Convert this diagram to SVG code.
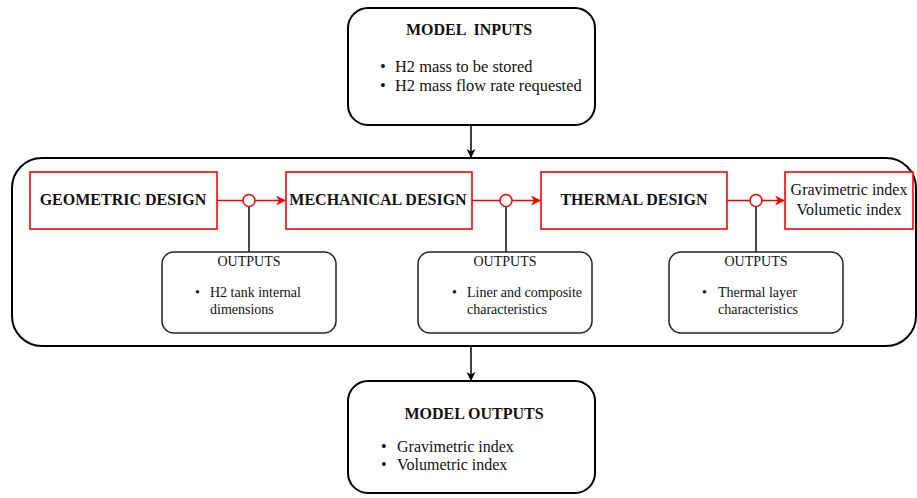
<svg xmlns="http://www.w3.org/2000/svg" width="917" height="498" viewBox="0 0 917 498">
  <defs>
    <marker id="arrowBlack" viewBox="0 0 10 10" refX="9" refY="5" markerWidth="9" markerHeight="9" markerUnits="userSpaceOnUse" orient="auto">
      <path d="M0,0 L10,5 L0,10 L3,5 z" fill="#000"/>
    </marker>
    <marker id="arrowRed" viewBox="0 0 10 10" refX="9" refY="5" markerWidth="10" markerHeight="10" markerUnits="userSpaceOnUse" orient="auto">
      <path d="M0,0 L10,5 L0,10 L3,5 z" fill="#ff0000"/>
    </marker>
  </defs>
  <style>
    text { font-family: "Liberation Serif", "Times New Roman", serif; fill: #111; }
    .title { font-weight: bold; font-size: 16px; }
    .item { font-size: 16.4px; }
    .idx { font-size: 16px; }
    .head { font-size: 14px; }
    .small { font-size: 14px; }
    .black { fill: #fff; stroke: #000; stroke-width: 2; }
    .out { fill: #fff; stroke: #222; stroke-width: 1.5; }
    .red { fill: #fff; stroke: #ff0000; stroke-width: 1.6; }
    .redline { stroke: #ff0000; stroke-width: 1.5; fill: none; }
    .blackline { stroke: #000; stroke-width: 1.5; fill: none; }
    .stem { stroke: #333; stroke-width: 1.8; fill: none; }
  </style>
  <rect width="917" height="498" fill="#fff"/>

  <!-- process container -->
  <g id="process">
    <rect class="black" x="12" y="158" width="904" height="188" rx="30" ry="30"/>
  </g>

  <g id="model-inputs">
    <rect class="black" x="348" y="8" width="247" height="117" rx="20" ry="20"/>
    <text class="title" x="469" y="35" text-anchor="middle" xml:space="preserve">MODEL  INPUTS</text>
    <text class="item" x="380" y="72">•</text>
    <text class="item" x="395" y="72">H2 mass to be stored</text>
    <text class="item" x="380" y="91">•</text>
    <text class="item" x="395" y="91">H2 mass flow rate requested</text>
  </g>

  <g id="model-outputs">
    <rect class="black" x="348" y="381" width="247" height="112" rx="20" ry="20"/>
    <text class="title" x="474" y="419" text-anchor="middle">MODEL OUTPUTS</text>
    <text class="idx" x="381" y="452">•</text>
    <text class="idx" x="397" y="452">Gravimetric index</text>
    <text class="idx" x="381" y="470">•</text>
    <text class="idx" x="397" y="470">Volumetric index</text>
  </g>

  <g id="geometric-design">
    <rect class="red" x="30" y="172" width="187" height="57"/>
    <text class="title" x="123" y="205" text-anchor="middle">GEOMETRIC DESIGN</text>
  </g>

  <g id="mechanical-design">
    <rect class="red" x="286" y="172" width="186" height="57"/>
    <text class="title" x="378" y="205" text-anchor="middle">MECHANICAL DESIGN</text>
  </g>

  <g id="thermal-design">
    <rect class="red" x="541" y="172" width="186" height="57"/>
    <text class="title" x="634" y="205" text-anchor="middle">THERMAL DESIGN</text>
  </g>

  <g id="indices">
    <rect class="red" x="785" y="172" width="128" height="57"/>
    <text class="idx" x="849" y="195" text-anchor="middle">Gravimetric index</text>
    <text class="idx" x="849" y="215" text-anchor="middle">Volumetic index</text>
  </g>

  <g id="outputs-geometric">
    <rect class="out" x="162" y="252" width="174" height="81" rx="12" ry="12"/>
    <text class="head" x="249" y="266" text-anchor="middle">OUTPUTS</text>
    <text class="small" x="195" y="297">•</text>
    <text class="small" x="210" y="297">H2 tank internal</text>
    <text class="small" x="210" y="314">dimensions</text>
  </g>

  <g id="outputs-mechanical">
    <rect class="out" x="418" y="252" width="174" height="81" rx="12" ry="12"/>
    <text class="head" x="505" y="266" text-anchor="middle">OUTPUTS</text>
    <text class="small" x="452" y="297">•</text>
    <text class="small" x="467" y="297">Liner and composite</text>
    <text class="small" x="467" y="314">characteristics</text>
  </g>

  <g id="outputs-thermal">
    <rect class="out" x="669" y="252" width="174" height="81" rx="12" ry="12"/>
    <text class="head" x="756" y="266" text-anchor="middle">OUTPUTS</text>
    <text class="small" x="702" y="297">•</text>
    <text class="small" x="718" y="297">Thermal layer</text>
    <text class="small" x="718" y="314">characteristics</text>
  </g>

  <g id="connectors">
    <!-- inputs / outputs flow -->
    <line class="blackline" x1="471" y1="125" x2="471" y2="157" marker-end="url(#arrowBlack)"/>
    <line class="blackline" x1="471" y1="346" x2="471" y2="380" marker-end="url(#arrowBlack)"/>

    <!-- design chain -->
    <line class="redline" x1="217" y1="200.5" x2="243" y2="200.5"/>
    <line class="redline" x1="255" y1="200.5" x2="285" y2="200.5" marker-end="url(#arrowRed)"/>
    <line class="redline" x1="472" y1="200.5" x2="500" y2="200.5"/>
    <line class="redline" x1="512" y1="200.5" x2="540" y2="200.5" marker-end="url(#arrowRed)"/>
    <line class="redline" x1="727" y1="200.5" x2="750" y2="200.5"/>
    <line class="redline" x1="762" y1="200.5" x2="784" y2="200.5" marker-end="url(#arrowRed)"/>

    <!-- taps to output boxes -->
    <line class="stem" x1="249" y1="206.5" x2="249" y2="252"/>
    <line class="stem" x1="506" y1="206.5" x2="506" y2="252"/>
    <line class="stem" x1="756" y1="206.5" x2="756" y2="252"/>

    <circle class="redline" cx="249" cy="200.5" r="6" fill="#fff"/>
    <circle class="redline" cx="506" cy="200.5" r="6" fill="#fff"/>
    <circle class="redline" cx="756" cy="200.5" r="6" fill="#fff"/>
  </g>
</svg>
